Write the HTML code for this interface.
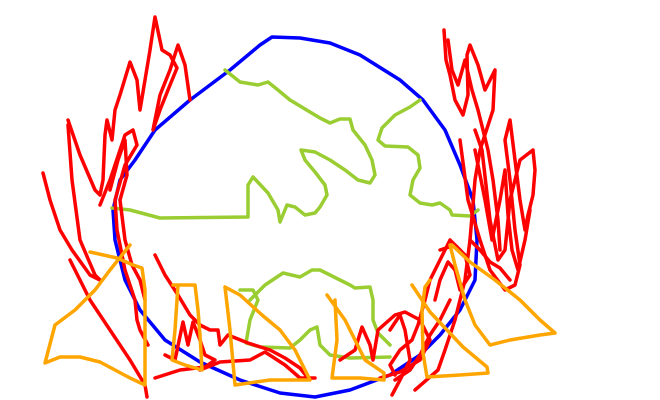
<!DOCTYPE html>
<html><head><meta charset="utf-8"><style>
html,body{margin:0;padding:0;background:#fff;width:660px;height:400px;overflow:hidden}
svg{display:block}
polyline{fill:none;stroke-width:3.5;stroke-linejoin:round;stroke-linecap:round}
.b{stroke:#0000ff}.g{stroke:#9acd32}.r{stroke:#ff0000}.o{stroke:#ffa500}
</style></head><body>
<svg width="660" height="400" viewBox="0 0 660 400">
<g>
<polyline class="b" points="260,45 272,37 300,38 330,43 360,55 400,80 423,100 445,130 460,165 473,200 477,240 475,280 460,310 440,335 420,355 390,375 350,390 315,397 280,393 240,380 200,362 165,340 140,310 125,280 115,240 113,210 120,180 135,160 155,130 190,100 230,70 260,45"/>
</g>
<g>
<polyline class="g" points="225,70 240,82 258,85 268,82 278,90 290,100 320,118 330,123 340,119 350,119 353,130 365,145 372,160 375,175 370,183 358,180 345,170 330,160 315,152 301,150 305,160 315,172 325,185 327,195 320,207 315,213 305,215 295,207 287,205 280,222 278,210 268,193 253,177 248,185 248,217 160,218 130,210 112,208"/>
<polyline class="g" points="420,100 410,107 395,115 382,128 378,140 385,146 408,147 418,155 420,168 413,180 410,195 420,203 432,205 440,203 450,210 452,215 470,216 478,210"/>
<polyline class="g" points="240,290 253,290 258,300 250,320 246,343 260,347 290,348 300,340 310,330 317,327 320,345 330,355 350,358 390,357"/>
<polyline class="g" points="250,300 265,285 283,273 300,277 312,270 320,270 330,275 350,285 355,288 370,287 373,300 373,320 378,333 390,345"/>
</g>
<g>
<polyline class="r" points="43,173 50,200 60,230 72,250 90,275 100,280"/>
<polyline class="r" points="70,260 90,300 110,330 130,360 145,385 147,397"/>
<polyline class="r" points="68,120 80,155 95,190 100,195 103,180 105,135 107,120 112,140 115,110 120,95 130,62 137,80 140,110 145,80 150,50 155,17 162,50 170,55 177,68 170,85 160,110 153,130 160,95 170,70 178,45 185,65 190,100"/>
<polyline class="r" points="100,205 110,180 125,135 133,130 137,145 125,165 115,200 117,230 122,255 125,270 130,285 135,300 137,320 140,330 148,345"/>
<polyline class="r" points="68,125 72,180 80,240 95,275 100,280"/>
<polyline class="r" points="110,190 118,160 125,140 127,175 120,200 125,240 132,265 140,280 145,300"/>
<polyline class="r" points="155,255 165,275 178,295 190,315 200,325 210,330 218,330 220,345 228,335 248,343 270,350 285,358 300,368 308,378"/>
<polyline class="r" points="155,378 180,370 205,367 215,360 205,355 200,340 193,322 188,345 183,322 175,360 165,355"/>
<polyline class="r" points="200,370 220,362 250,360 265,352 285,365 300,378 315,378"/>
<polyline class="r" points="444,30 446,60 450,75 455,100 463,115 468,95 467,55 470,45 478,65 485,90 490,80 495,70 493,110 480,150 475,180 470,240 465,280 455,320 445,350 438,370 415,390"/>
<polyline class="r" points="448,40 452,70 458,85 465,60 472,90 478,110 488,150 493,180 498,220 500,250"/>
<polyline class="r" points="460,140 468,200 480,240 490,270 505,290 515,285 520,265 515,230 510,180 505,140 510,120 515,160 520,200 525,230 528,215 533,195 535,170 533,150 520,160 510,200 505,250 498,260 490,220 482,150 475,130"/>
<polyline class="r" points="475,150 485,200 492,240 500,200 505,170 508,215 512,250 518,270 525,240 530,210"/>
<polyline class="r" points="460,250 450,240 440,260 430,280 425,300 418,325 412,340 400,350 390,365 395,375"/>
<polyline class="r" points="440,250 455,245 465,255 470,275 460,290 455,270 448,262 440,280 435,300"/>
<polyline class="r" points="390,330 400,315 405,330 410,360 400,380 392,395"/>
<polyline class="r" points="340,360 355,350 362,327 370,345 373,360 378,330 395,315 405,312 420,320 430,340 420,360 400,372 380,378"/>
<polyline class="r" points="470,240 480,250 490,262 500,268 510,280"/>
<polyline class="r" points="395,380 410,370 420,355 430,335 440,320 450,300"/>
</g>
<g>
<polyline class="o" points="130,245 110,270 95,290 75,310 55,325 45,363 60,357 80,357 100,362 115,370 130,378 145,385 145,290 142,268 133,265 117,258 90,252"/>
<polyline class="o" points="173,285 195,285 198,310 200,335 202,370 185,365 172,360 175,330 178,285"/>
<polyline class="o" points="225,287 240,295 262,315 280,330 295,350 305,370 310,380 295,380 270,380 235,385 230,330 225,287"/>
<polyline class="o" points="327,295 345,320 355,340 365,360 384,373 384,380 360,378 340,378 332,378 337,340 335,300"/>
<polyline class="o" points="412,285 430,312 463,347 487,367 488,373 460,375 427,377 423,353 422,310 425,287 430,280"/>
<polyline class="o" points="450,245 455,265 465,300 475,325 490,345 510,340 540,335 555,333 540,320 520,300 495,280 470,262 452,245"/>
</g>
</svg>
</body></html>
